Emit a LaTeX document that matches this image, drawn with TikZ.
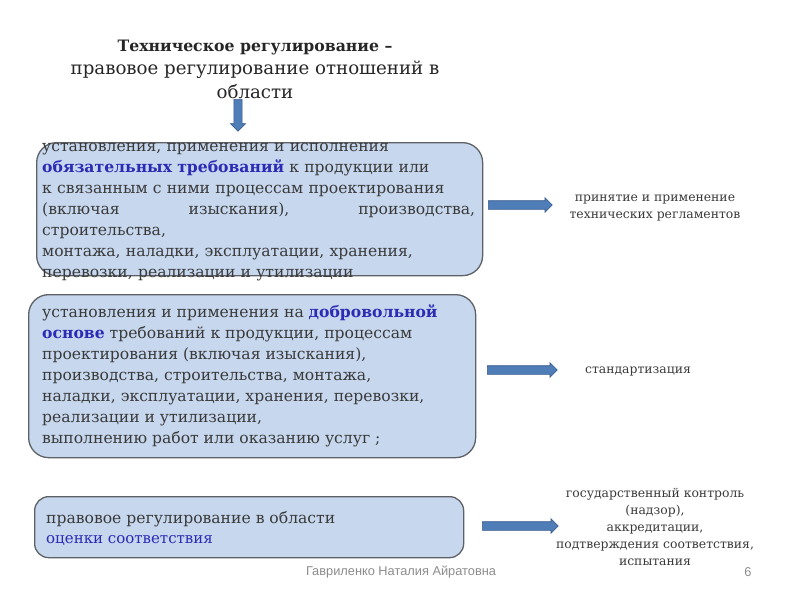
\documentclass[tikz,border=0pt]{standalone}
\usepackage{fontspec}
\setmainfont{DejaVu Serif}
\newfontfamily\footfont{Liberation Sans}
\usetikzlibrary{shapes.arrows}
\definecolor{boxfill}{HTML}{C6D7EE}
\definecolor{boxline}{HTML}{5E6166}
\definecolor{txt}{HTML}{3A3A3A}
\definecolor{hiblue}{HTML}{2B2BB5}
\definecolor{arrfill}{HTML}{4F7DB8}
\definecolor{arrline}{HTML}{37598A}
\tikzset{
  rbox/.style={draw=boxline, line width=1.3pt, fill=boxfill, rounded corners=20pt},
  boxtext/.style={anchor=north west, inner sep=0pt, align=left, text=txt,
    font=\fontsize{15.6}{21}\selectfont},
  sidetext/.style={inner sep=0pt, align=center, text=txt,
    font=\fontsize{12.4}{17}\selectfont},
  barrow/.style={single arrow, draw=arrline, fill=arrfill, line width=0.6pt,
    inner sep=4pt, single arrow head extend=3pt, minimum height=#1, anchor=west},
  darrow/.style={single arrow, draw=arrline, fill=arrfill, line width=0.6pt,
    inner sep=3.8pt, single arrow head extend=3.5pt, minimum height=#1,
    shape border rotate=270, anchor=north},
}
\begin{document}
\begin{tikzpicture}[x=1pt,y=-1pt]
\useasboundingbox (0,0) rectangle (800,600);
\node[darrow=32pt] (down) at (238,99) {};
% title
\node[inner sep=0pt, align=center, text=black!85,
  font=\fontsize{18.2}{23.5}\selectfont] (title) at (255,69)
  {\textbf{\fontsize{15.7}{23.5}\selectfont Техническое регулирование –}\\
   правовое регулирование отношений в\\ области};
% box 1
\node[rbox, minimum width=446pt, minimum height=133pt, anchor=north west] (b1) at (36,142) {};
\node[boxtext, text width=433pt] (t1) at (42,143)
 {установления, применения и исполнения\\
  \textcolor{hiblue}{\textbf{обязательных требований}} к продукции или\\
  к связанным с ними процессам проектирования\\
  (включая\hfill изыскания),\hfill производства,\\
  строительства,\\
  монтажа, наладки, эксплуатации, хранения,\\
  перевозки, реализации и утилизации};
% box 2
\node[rbox, minimum width=447pt, minimum height=163pt, anchor=north west] (b2) at (28,294) {};
\node[boxtext] (t2) at (42,305)
 {установления и применения на \textcolor{hiblue}{\textbf{добровольной}}\\
  \textcolor{hiblue}{\textbf{основе}} требований к продукции, процессам\\
  проектирования (включая изыскания),\\
  производства, строительства, монтажа,\\
  наладки, эксплуатации, хранения, перевозки,\\
  реализации и утилизации,\\
  выполнению работ или оказанию услуг ;};
% box 3
\node[rbox, rounded corners=14pt, minimum width=429pt, minimum height=61pt, anchor=north west] (b3) at (34,496) {};
\node[boxtext, font=\fontsize{15.6}{20}\selectfont] (t3) at (46,511)
 {правовое регулирование в области\\
  \textcolor{hiblue}{\fontsize{15}{20}\selectfont оценки соответствия}};
% side arrows
\node[barrow=64pt] (a1) at (488,205) {};
\node[barrow=70pt] (a2) at (487,370) {};
\node[barrow=76pt] (a3) at (482,526) {};
% side texts
\node[sidetext] (s1) at (655,208) {принятие и применение\\технических регламентов};
\node[sidetext] (s2) at (638,371) {стандартизация};
\node[sidetext] (s3) at (655,527) {государственный контроль\\(надзор),\\аккредитации,\\подтверждения соответствия,\\испытания};
% footer
\node[inner sep=0pt, text=black!45, font=\footfont\fontsize{12.8}{14}\selectfont] (foot) at (401,572) {Гавриленко Наталия Айратовна};
\node[inner sep=0pt, text=black!45, font=\footfont\fontsize{12.8}{14}\selectfont] (pg) at (748,572) {6};
\end{tikzpicture}
\end{document}
